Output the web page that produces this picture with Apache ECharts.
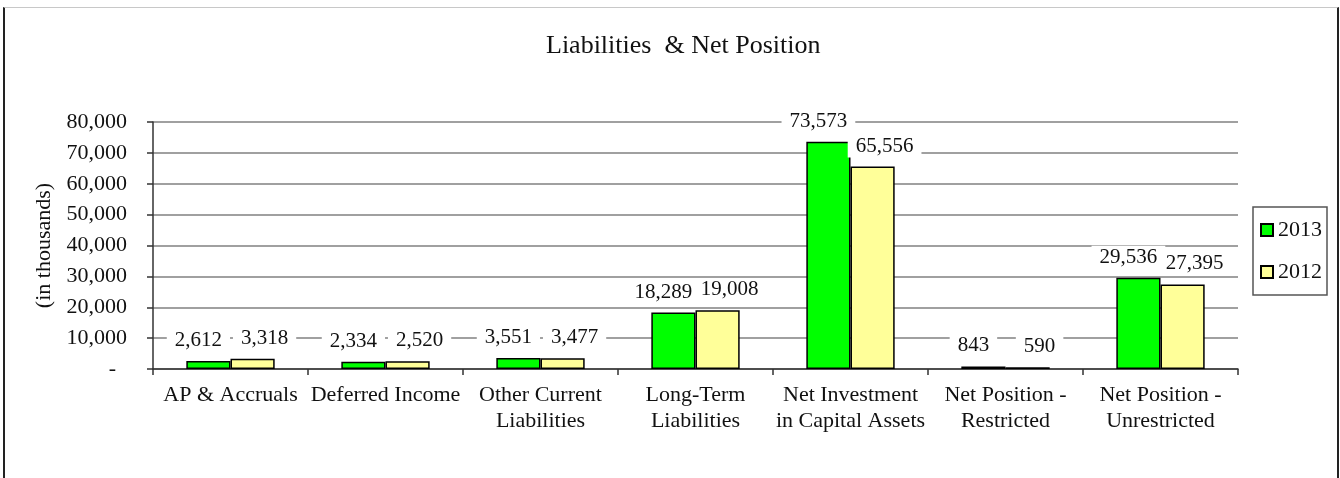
<!DOCTYPE html>
<html>
<head>
<meta charset="utf-8">
<script src="https://cdn.jsdelivr.net/npm/echarts@6/dist/echarts.min.js"></script>
<style>
  html, body { margin: 0; padding: 0; background: #fff; }
  #frame {
    position: absolute; left: 3px; top: 7px; width: 1332px; height: 480px;
    border-left: 2px solid #222; border-right: 2px solid #222; border-top: 1px solid #c8c8c8;
  }
  #chart { position: absolute; left: 0; top: 0; width: 1340px; height: 478px; }
</style>
</head>
<body>
<div id="frame"></div>
<div id="chart"></div>
<script>
const categories = [
  'AP & Accruals',
  'Deferred Income',
  'Other Current\nLiabilities',
  'Long-Term\nLiabilities',
  'Net Investment\nin Capital Assets',
  'Net Position -\nRestricted',
  'Net Position -\nUnrestricted'
];
const values2013 = [2612, 2334, 3551, 18289, 73573, 843, 29536];
const values2012 = [3318, 2520, 3477, 19008, 65556, 590, 27395];

const serif = 'Liberation Serif';
const fmt = v => v === 0 ? '-  ' : v.toLocaleString('en-US');

const chart = echarts.init(document.getElementById('chart'));

function barSeries(name, data, color, dx) {
  return {
    name: name,
    type: 'bar',
    data: data,
    barGap: '0%',
    barCategoryGap: '43%',
    itemStyle: { color: color, borderColor: '#000', borderWidth: 1.5 },
    label: {
      show: true,
      position: 'top',
      distance: 9,
      offset: [dx, 0],
      formatter: p => fmt(p.value),
      fontFamily: serif,
      fontSize: 21,
      color: '#111',
      backgroundColor: '#fff',
      padding: [1, 8]
    }
  };
}

const option = {
  animation: false,
  title: {
    text: 'Liabilities  & Net Position',
    left: 541,
    top: 28,
    textStyle: { fontFamily: serif, fontSize: 26, fontWeight: 'normal', color: '#111' }
  },
  legend: {
    orient: 'vertical',
    left: 1253,
    top: 207,
    padding: [12, 5, 12, 7],
    itemGap: 20,
    itemWidth: 12,
    itemHeight: 12,
    borderColor: '#555',
    borderWidth: 1.5,
    icon: 'rect',
    textStyle: { fontFamily: serif, fontSize: 22, color: '#111' },
    data: ['2013', '2012']
  },
  grid: { left: 153, right: 102, top: 122, bottom: 109 },
  xAxis: {
    type: 'category',
    data: categories,
    axisLine: { lineStyle: { color: '#333', width: 1.5 } },
    axisTick: { show: true, length: 6, lineStyle: { color: '#333', width: 1.5 } },
    axisLabel: {
      interval: 0,
      margin: 13,
      fontFamily: serif,
      fontSize: 22,
      lineHeight: 26,
      color: '#111'
    }
  },
  yAxis: {
    type: 'value',
    min: 0,
    max: 80000,
    interval: 10000,
    name: '(in thousands)',
    nameLocation: 'middle',
    nameGap: 92,
    nameTextStyle: { fontFamily: serif, fontSize: 22, color: '#111' },
    axisLine: { show: true, lineStyle: { color: '#333', width: 1.5 } },
    axisTick: { show: true, length: 6, lineStyle: { color: '#333', width: 1.5 } },
    axisLabel: {
      margin: 26,
      formatter: fmt,
      fontFamily: serif,
      fontSize: 22,
      color: '#111'
    },
    splitLine: { lineStyle: { color: '#808080', width: 1.5 } }
  },
  series: [
    barSeries('2013', values2013, '#00ff00', -10),
    barSeries('2012', values2012, '#ffff99', 12)
  ]
};

chart.setOption(option);
</script>
</body>
</html>
